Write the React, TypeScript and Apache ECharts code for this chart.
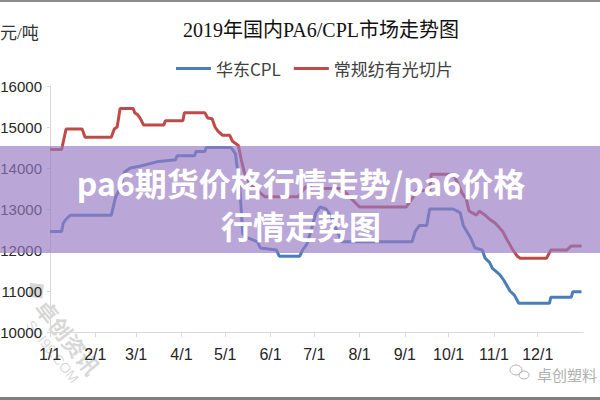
import React, { useEffect, useRef } from 'react';
import * as echarts from 'echarts';

const titleText = '2019年国内PA6/CPL市场走势图';
const unitText = '元/吨';
const seriesNames = ['华东CPL', '常规纺有光切片'];
const bannerLines = ['pa6期货价格行情走势/pa6价格', '行情走势图'];
const watermarkTexts = ['卓创资讯', 'SCI99.COM', '卓创塑料'];

// 华东CPL (blue)
const cplDates = [
  '2019-01-01', '2019-01-09', '2019-01-10', '2019-01-12', '2019-01-15', '2019-02-12', '2019-02-15', '2019-02-18',
  '2019-02-21', '2019-02-25', '2019-03-04', '2019-03-15', '2019-03-28', '2019-03-29', '2019-04-10', '2019-04-11',
  '2019-04-17', '2019-04-18', '2019-05-05', '2019-05-08', '2019-05-11', '2019-05-13', '2019-05-16', '2019-05-23',
  '2019-05-25', '2019-06-05', '2019-06-07', '2019-06-21', '2019-06-23', '2019-06-26', '2019-06-29', '2019-07-02',
  '2019-07-05', '2019-07-09', '2019-07-12', '2019-07-16', '2019-07-20', '2019-09-06', '2019-09-08', '2019-09-11',
  '2019-09-16', '2019-09-18', '2019-10-04', '2019-10-07', '2019-10-09', '2019-10-11', '2019-10-16', '2019-10-19',
  '2019-10-24', '2019-10-26', '2019-10-29', '2019-10-31', '2019-11-05', '2019-11-08', '2019-11-12', '2019-11-15',
  '2019-11-18', '2019-12-09', '2019-12-10', '2019-12-24', '2019-12-25', '2019-12-31'
];
const cplPrices = [
  12450, 12450, 12650, 12750, 12850, 12850, 13300, 13500,
  13900, 14000, 14050, 14150, 14200, 14300, 14300, 14400,
  14400, 14500, 14500, 14350, 13500, 12400, 12300, 12200,
  12050, 12000, 11850, 11850, 12000, 12150, 12500, 12900,
  13050, 13000, 12850, 12500, 12200, 12200, 12450, 12600,
  12600, 13000, 13000, 12950, 12900, 12600, 12300, 12050,
  12000, 11800, 11700, 11550, 11400, 11250, 11000, 10900,
  10700, 10700, 10850, 10850, 10980, 10980
];

// 常规纺有光切片 (red)
const chipDates = [
  '2019-01-01', '2019-01-09', '2019-01-12', '2019-01-23', '2019-01-25', '2019-02-12', '2019-02-14', '2019-02-16',
  '2019-02-18', '2019-02-27', '2019-02-28', '2019-03-02', '2019-03-04', '2019-03-06', '2019-03-20', '2019-03-21',
  '2019-04-02', '2019-04-03', '2019-04-17', '2019-04-19', '2019-04-22', '2019-04-24', '2019-04-26', '2019-04-29',
  '2019-05-04', '2019-05-06', '2019-05-10', '2019-05-12', '2019-05-14', '2019-05-18', '2019-05-23', '2019-05-28',
  '2019-06-20', '2019-06-23', '2019-06-27', '2019-06-29', '2019-07-20', '2019-07-25', '2019-08-01', '2019-09-02',
  '2019-09-04', '2019-09-06', '2019-09-09', '2019-09-18', '2019-09-19', '2019-10-04', '2019-10-07', '2019-10-10',
  '2019-10-13', '2019-10-15', '2019-10-20', '2019-10-22', '2019-10-26', '2019-10-29', '2019-11-02', '2019-11-07',
  '2019-11-10', '2019-11-14', '2019-11-17', '2019-11-19', '2019-12-07', '2019-12-10', '2019-12-21', '2019-12-24',
  '2019-12-31'
];
const chipPrices = [
  14450, 14450, 14950, 14950, 14750, 14750, 14950, 15000,
  15450, 15450, 15350, 15300, 15200, 15050, 15050, 15150,
  15150, 15350, 15350, 15220, 15200, 15000, 14900, 14800,
  14800, 14650, 14550, 14200, 13900, 13600, 13450, 13300,
  13300, 13450, 13600, 13500, 13500, 13300, 13050, 13050,
  13150, 13250, 13450, 13450, 13850, 13850, 13650, 13400,
  13250, 12950, 12850, 12950, 12850, 12750, 12650, 12450,
  12250, 12000, 11850, 11800, 11800, 12000, 12000, 12100,
  12100
];

const yMin = 10000;
const yMax = 16000;
const yStep = 1000;

const zip = (d: string[], v: number[]) => d.map((x, i) => [x, v[i]]);

export default function App() {
  const ref = useRef<HTMLDivElement>(null);
  useEffect(() => {
    if (!ref.current) return;
    const chart = echarts.init(ref.current, null, { renderer: 'svg' });
    const axisColor = '#d9d9d9';
    const labelFont = 'Liberation Sans, Arial, sans-serif';
    const wm = 'rgba(140,140,140,0.35)';
    chart.setOption({
      animation: false,
      backgroundColor: '#ffffff',
      title: {
        text: titleText,
        left: 316,
        textAlign: 'center',
        top: 15,
        textStyle: {
          fontSize: 20,
          fontWeight: 'normal',
          color: '#111111',
          fontFamily: 'Liberation Serif, Noto Sans CJK SC, serif'
        }
      },
      legend: {
        top: 60,
        left: 176,
        padding: 0,
        icon: 'rect',
        itemWidth: 35,
        itemHeight: 3,
        itemGap: 13,
        textStyle: { fontSize: 17, color: '#404040', fontFamily: 'Noto Sans CJK SC, sans-serif' },
        data: seriesNames
      },
      grid: { left: 50, right: 17, top: 86, bottom: 68, containLabel: false, outerBoundsMode: 'none' },
      xAxis: {
        type: 'time',
        min: '2019-01-01',
        max: '2020-01-01',
        splitNumber: 12,
        minInterval: 28 * 86400000,
        axisLine: { show: true, lineStyle: { color: axisColor, width: 1 } },
        axisTick: { show: true, length: 5, lineStyle: { color: axisColor } },
        splitLine: { show: false },
        axisLabel: {
          fontSize: 16,
          color: '#262626',
          fontFamily: labelFont,
          margin: 14,
          alignMinLabel: 'center',
          alignMaxLabel: 'center',
          formatter: (val: number) => {
            const d = new Date(val);
            if (d.getFullYear() > 2019) return '';
            return `${d.getMonth() + 1}/${d.getDate()}`;
          }
        }
      },
      yAxis: {
        type: 'value',
        min: yMin,
        max: yMax,
        interval: yStep,
        axisLine: { show: true, lineStyle: { color: axisColor, width: 1 } },
        axisTick: { show: true, length: 3, lineStyle: { color: axisColor } },
        splitLine: { show: false },
        axisLabel: {
          fontSize: 15,
          color: '#262626',
          fontFamily: labelFont,
          margin: 8,
          formatter: (v: number) => String(v)
        }
      },
      series: [
        {
          name: seriesNames[0],
          type: 'line',
          symbol: 'none',
          data: zip(cplDates, cplPrices),
          lineStyle: { color: '#4a7ebb', width: 3 },
          itemStyle: { color: '#4a7ebb' },
          z: 3
        },
        {
          name: seriesNames[1],
          type: 'line',
          symbol: 'none',
          data: zip(chipDates, chipPrices),
          lineStyle: { color: '#be4b48', width: 3 },
          itemStyle: { color: '#be4b48' },
          z: 2
        }
      ],
      graphic: [
        {
          type: 'text',
          left: 0,
          top: 25,
          style: { text: unitText, fontSize: 17, fill: '#333333', fontFamily: 'Liberation Serif, Noto Sans CJK SC, serif' }
        },
        { type: 'rect', left: 0, top: 0, shape: { width: 600, height: 2 }, style: { fill: '#8c8c8c' }, z: 100 },
        { type: 'rect', left: 0, top: 397, shape: { width: 600, height: 3 }, style: { fill: '#7f7f7f' }, z: 100 },
        {
          type: 'group',
          x: 30,
          y: 283,
          rotation: -0.9,
          z: 50,
          children: [
            { type: 'rect', x: 0, y: 0, rotation: Math.PI / 4, shape: { width: 14, height: 14 }, style: { fill: wm } },
            { type: 'text', x: 22, y: -8, style: { text: watermarkTexts[0], fontSize: 22, fontWeight: 'bold', fill: wm, fontFamily: 'Noto Sans CJK SC, sans-serif' } },
            { type: 'text', x: 30, y: 18, style: { text: watermarkTexts[1], fontSize: 14, fill: wm, fontFamily: 'Liberation Sans, sans-serif' } }
          ]
        },
        { type: 'ellipse', shape: { cx: 516, cy: 370, rx: 6, ry: 5 }, style: { fill: 'none', stroke: '#b5b5b5', lineWidth: 1 }, z: 50 },
        { type: 'ellipse', shape: { cx: 524, cy: 375, rx: 5, ry: 4 }, style: { fill: 'none', stroke: '#b5b5b5', lineWidth: 1 }, z: 50 },
        {
          type: 'text',
          left: 537,
          top: 367,
          z: 50,
          style: { text: watermarkTexts[2], fontSize: 15, fill: '#b0b0b0', fontFamily: 'Noto Sans CJK SC, sans-serif' }
        },
        {
          type: 'rect',
          left: 0,
          top: 146,
          shape: { width: 600, height: 107 },
          style: { fill: 'rgba(151,121,195,0.66)' },
          z: 100
        },
        {
          type: 'text',
          x: 301,
          y: 182,
          z: 101,
          style: {
            text: bannerLines[0],
            fontSize: 32,
            fontWeight: 'bold',
            fill: '#ffffff',
            align: 'center',
            verticalAlign: 'middle',
            fontFamily: 'Noto Sans CJK SC, sans-serif'
          }
        },
        {
          type: 'text',
          x: 301,
          y: 225,
          z: 101,
          style: {
            text: bannerLines[1],
            fontSize: 32,
            fontWeight: 'bold',
            fill: '#ffffff',
            align: 'center',
            verticalAlign: 'middle',
            fontFamily: 'Noto Sans CJK SC, sans-serif'
          }
        }
      ]
    });
    return () => chart.dispose();
  }, []);
  return <div ref={ref} style={{ width: 600, height: 400, position: 'absolute', left: 0, top: 0 }} />;
}
